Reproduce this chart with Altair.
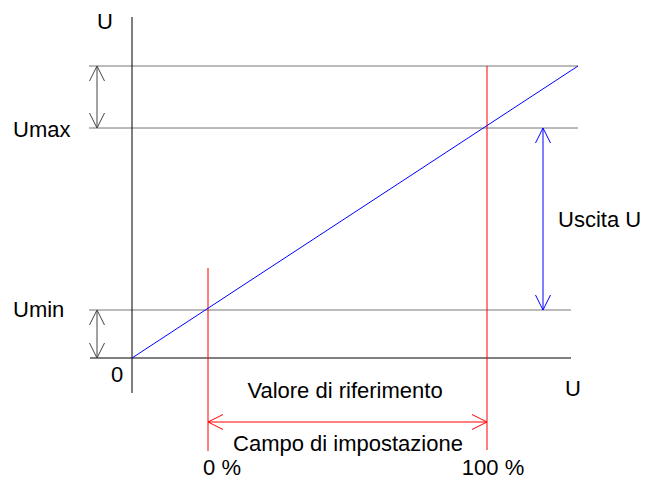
import altair as alt
import pandas as pd

# Diagram coordinates (origin = intersection of the axes)
# Horizontal reference lines: top, Umax, Umin, horizontal axis
h_y = [292, 230, 48, 0]
h_x1 = [-43, -43, -43, -42]
h_x2 = [446, 446, 439, 439]
h_color = ["#777777", "#777777", "#777777", "#000000"]

# Vertical lines: U axis, 0 % marker, 100 % marker
v_x = [0, 76, 355]
v_y1 = [-35, -93, -92]
v_y2 = [341, 90, 292]
v_color = ["#000000", "#ff0000", "#ff0000"]

# Characteristic line (output vs input)
char_x = [0, 446]
char_y = [0, 292]

# Dimension arrows (double headed)
arr_x1 = [-35, -35, 411, 76]
arr_y1 = [230, 0, 48, -64]
arr_x2 = [-35, -35, 411, 355]
arr_y2 = [292, 48, 230, -64]
arr_color = ["#444444", "#444444", "#0000ff", "#ff0000"]

# Labels
lab_left_text = ["U", "Umax", "Umin", "0", "U", "Uscita U"]
lab_left_x = [-35, -119, -119, -21, 433, 426]
lab_left_y = [329, 221, 41, -24, -38, 131]

lab_center_text = ["Valore di riferimento", "Campo di impostazione", "0 %", "100 %"]
lab_center_x = [213, 216, 90, 361]
lab_center_y = [-40, -93, -117, -117]

X_DOMAIN = [-124, 511]
Y_DOMAIN = [-122, 350]

segs = []
for y, x1, x2, c in zip(h_y, h_x1, h_x2, h_color):
    segs.append(dict(x=x1, x2=x2, y=y, y2=y, c=c))
for x, y1, y2, c in zip(v_x, v_y1, v_y2, v_color):
    segs.append(dict(x=x, x2=x, y=y1, y2=y2, c=c))
segs.append(dict(x=char_x[0], x2=char_x[1], y=char_y[0], y2=char_y[1], c="#0000ff"))
for x1, y1, x2, y2, c in zip(arr_x1, arr_y1, arr_x2, arr_y2, arr_color):
    segs.append(dict(x=x1, x2=x2, y=y1, y2=y2, c=c))
seg_df = pd.DataFrame(segs)

heads = []
for x1, y1, x2, y2, c in zip(arr_x1, arr_y1, arr_x2, arr_y2, arr_color):
    if x1 == x2:  # vertical arrow
        lo, hi = (y1, y2) if y1 < y2 else (y2, y1)
        heads.append(dict(x=x1, y=hi, a=0, c=c))
        heads.append(dict(x=x1, y=lo, a=180, c=c))
    else:
        lo, hi = (x1, x2) if x1 < x2 else (x2, x1)
        heads.append(dict(x=lo, y=y1, a=270, c=c))
        heads.append(dict(x=hi, y=y1, a=90, c=c))
head_df = pd.DataFrame(heads)

left_df = pd.DataFrame(dict(t=lab_left_text, x=lab_left_x, y=lab_left_y))
center_df = pd.DataFrame(dict(t=lab_center_text, x=lab_center_x, y=lab_center_y))

xs = alt.Scale(domain=X_DOMAIN, nice=False, zero=False)
ys = alt.Scale(domain=Y_DOMAIN, nice=False, zero=False)

lines = alt.Chart(seg_df).mark_rule(strokeWidth=1).encode(
    x=alt.X("x:Q", scale=xs, axis=None),
    x2="x2:Q",
    y=alt.Y("y:Q", scale=ys, axis=None),
    y2="y2:Q",
    color=alt.Color("c:N", scale=None),
)

arrowheads = alt.Chart(head_df).mark_point(
    shape="M -0.5 1 L 0 0 L 0.5 1", filled=False, size=900, strokeWidth=1, opacity=1
).encode(
    x=alt.X("x:Q", scale=xs, axis=None),
    y=alt.Y("y:Q", scale=ys, axis=None),
    angle=alt.Angle("a:Q", scale=None),
    color=alt.Color("c:N", scale=None),
)

FONT = "Liberation Sans"
FS = 22

left_text = alt.Chart(left_df).mark_text(
    align="left", baseline="alphabetic", font=FONT, fontSize=FS, color="black"
).encode(
    x=alt.X("x:Q", scale=xs, axis=None),
    y=alt.Y("y:Q", scale=ys, axis=None),
    text="t:N",
)

center_text = alt.Chart(center_df).mark_text(
    align="center", baseline="alphabetic", font=FONT, fontSize=FS, color="black"
).encode(
    x=alt.X("x:Q", scale=xs, axis=None),
    y=alt.Y("y:Q", scale=ys, axis=None),
    text="t:N",
)

chart = alt.layer(lines, arrowheads, left_text, center_text).properties(
    width=635, height=472, autosize=alt.AutoSizeParams(type="none"), padding=0,
    background="white",
).configure_view(stroke=None)

chart.save("out.html", embed_options={"renderer": "svg", "actions": False})
